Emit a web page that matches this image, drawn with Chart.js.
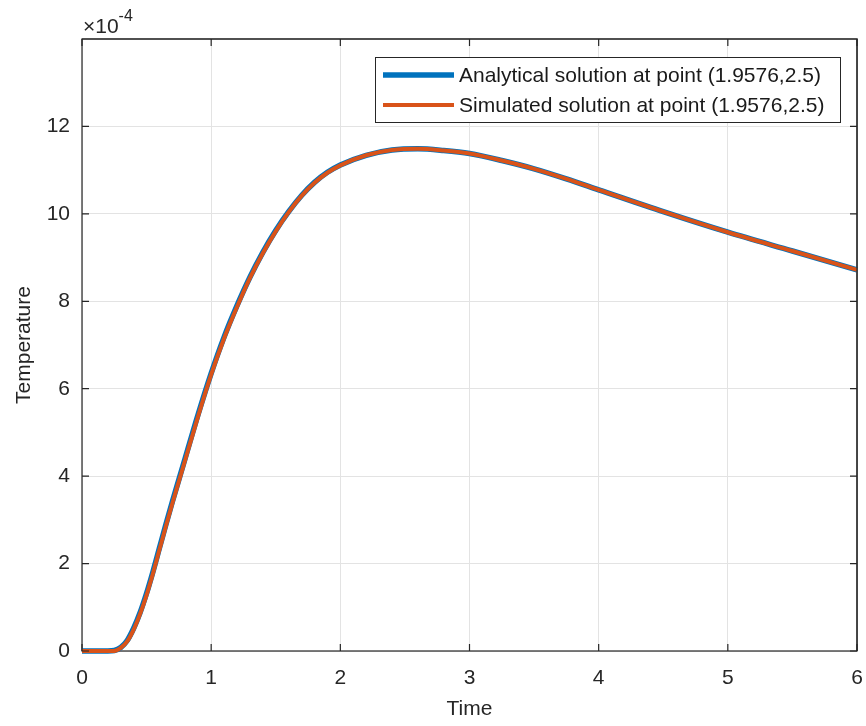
<!DOCTYPE html>
<html>
<head>
<meta charset="utf-8">
<script src="https://cdn.jsdelivr.net/npm/chart.js@4.4.0/dist/chart.umd.min.js"></script>
<style>
  html, body { margin: 0; padding: 0; background: #fff; }
  #wrap { width: 866px; height: 726px; }
</style>
</head>
<body>
<div id="wrap"><canvas id="myChart" width="866" height="726"></canvas></div>
<script>
// time values (s) and temperatures in units of 1e-4
var timeVals = [0, 0.1, 0.2, 0.25, 0.3, 0.35, 0.4, 0.45, 0.5, 0.55, 0.6, 0.65, 0.7, 0.75, 0.8,
    0.9, 1.0, 1.1, 1.2, 1.3, 1.4, 1.5, 1.6, 1.7, 1.8, 1.9, 2.0, 2.2, 2.4, 2.6, 2.8, 3.0,
    3.25, 3.5, 3.75, 4.0, 4.5, 5.0, 5.5, 6.0];
var analytical = [0, 0, 0, 0.01, 0.08, 0.24, 0.52, 0.88, 1.32, 1.82, 2.36, 2.9, 3.42, 3.92, 4.42,
    5.42, 6.35, 7.18, 7.9, 8.55, 9.12, 9.62, 10.05, 10.42, 10.72, 10.95, 11.12, 11.34, 11.46, 11.49,
    11.45, 11.38, 11.22, 11.03, 10.8, 10.55, 10.05, 9.58, 9.15, 8.72];
var simulated = [0, 0, 0, 0.0, 0.07, 0.22, 0.49, 0.85, 1.28, 1.78, 2.32, 2.86, 3.38, 3.88, 4.38,
    5.38, 6.32, 7.15, 7.87, 8.53, 9.1, 9.6, 10.04, 10.41, 10.71, 10.94, 11.11, 11.34, 11.46, 11.49,
    11.45, 11.38, 11.22, 11.03, 10.8, 10.55, 10.05, 9.58, 9.15, 8.72];
var seriesLabels = ["Analytical solution at point (1.9576,2.5)", "Simulated solution at point (1.9576,2.5)"];
var xTicks = [0, 1, 2, 3, 4, 5, 6];
var yTicks = [0, 2, 4, 6, 8, 10, 12];

function toPoints(xs, ys) {
    var result = [];
    for (var i = 0; i < xs.length; i++) {
        result.push({ x: xs[i], y: ys[i] });
    }
    return result;
}

var FONT = "'Liberation Sans', Arial, Helvetica, sans-serif";
var axisColor = "#262626";

// box, inward ticks, exponent label and legend, MATLAB style
var matlabAxes = {
    id: "matlabAxes",
    beforeDatasetsDraw: function (chart) {
        var ctx = chart.ctx, a = chart.chartArea;
        ctx.save();
        ctx.strokeStyle = axisColor;
        ctx.lineWidth = 1.2;
        ctx.strokeRect(a.left, a.top, a.right - a.left, a.bottom - a.top);
        ctx.restore();
    },
    afterDraw: function (chart) {
        var ctx = chart.ctx, a = chart.chartArea;
        var xs = chart.scales.x, ys = chart.scales.y;
        ctx.save();
        ctx.strokeStyle = axisColor;
        ctx.lineWidth = 1.2;
        ctx.beginPath();
        ctx.moveTo(a.left, a.top); ctx.lineTo(a.right, a.top); ctx.lineTo(a.right, a.bottom);
        ctx.stroke();
        ctx.beginPath();
        var tl = 7;
        xTicks.forEach(function (v) {
            var px = xs.getPixelForValue(v);
            ctx.moveTo(px, a.bottom); ctx.lineTo(px, a.bottom - tl);
            ctx.moveTo(px, a.top); ctx.lineTo(px, a.top + tl);
        });
        yTicks.forEach(function (v) {
            var py = ys.getPixelForValue(v);
            ctx.moveTo(a.left, py); ctx.lineTo(a.left + tl, py);
            ctx.moveTo(a.right, py); ctx.lineTo(a.right - tl, py);
        });
        ctx.stroke();

        // exponent
        ctx.fillStyle = axisColor;
        ctx.textBaseline = "alphabetic";
        ctx.textAlign = "left";
        ctx.font = "21px " + FONT;
        ctx.fillText("\u00d710", a.left + 1, a.top - 6);
        var w = ctx.measureText("\u00d710").width;
        ctx.font = "16px " + FONT;
        ctx.fillText("-4", a.left + 1 + w, a.top - 18);

        // legend
        var lx = 375, ly = 57, lw = 465, lh = 65;
        ctx.fillStyle = "#fff";
        ctx.fillRect(lx, ly, lw, lh);
        ctx.strokeStyle = axisColor;
        ctx.lineWidth = 1;
        ctx.strokeRect(lx + 0.5, ly + 0.5, lw, lh);
        ctx.font = "21px " + FONT;
        ctx.textBaseline = "middle";
        chart.data.datasets.forEach(function (ds, i) {
            var cy = ly + 18 + i * 30;
            ctx.strokeStyle = ds.borderColor;
            ctx.lineWidth = ds.borderWidth;
            ctx.beginPath();
            ctx.moveTo(lx + 8, cy);
            ctx.lineTo(lx + 79, cy);
            ctx.stroke();
            ctx.fillStyle = "#1a1a1a";
            ctx.fillText(ds.label, lx + 84, cy + 1);
        });
        ctx.restore();
    }
};

var ctx = document.getElementById("myChart").getContext("2d");
var mychart = new Chart(ctx, {
    type: "scatter",
    data: {
        datasets: [
            {
                label: seriesLabels[0],
                data: toPoints(timeVals, analytical),
                borderColor: "#0072BD",
                borderWidth: 5.5,
                showLine: true,
                pointRadius: 0,
                order: 1,
                clip: 6,
                cubicInterpolationMode: "monotone",
                fill: false
            },
            {
                label: seriesLabels[1],
                data: toPoints(timeVals, simulated),
                borderColor: "#D95319",
                borderWidth: 4,
                showLine: true,
                pointRadius: 0,
                order: 0,
                clip: 6,
                cubicInterpolationMode: "monotone",
                fill: false
            }
        ]
    },
    options: {
        responsive: false,
        animation: false,
        layout: { padding: { left: 0, right: 9, top: 39, bottom: 0 } },
        plugins: { legend: { display: false }, tooltip: { enabled: false } },
        scales: {
            x: {
                type: "linear",
                min: 0, max: 6,
                afterBuildTicks: function (s) { s.ticks = xTicks.map(function (v) { return { value: v }; }); },
                afterFit: function (s) { s.height = 75; s.paddingLeft = 0; s.paddingRight = 0; },
                grid: { color: "#e3e3e3", drawTicks: false },
                border: { display: false },
                ticks: { padding: 15, color: axisColor, font: { family: FONT, size: 21 } },
                title: { display: true, text: "Time", color: axisColor, padding: { top: 5 }, font: { family: FONT, size: 21 } }
            },
            y: {
                min: 0, max: 14,
                afterBuildTicks: function (s) { s.ticks = yTicks.map(function (v) { return { value: v }; }); },
                afterFit: function (s) { s.width = 82; s.paddingTop = 0; s.paddingBottom = 0; },
                grid: { color: "#e3e3e3", drawTicks: false },
                border: { display: false },
                ticks: { padding: 12, color: axisColor, font: { family: FONT, size: 21 } },
                title: { display: true, text: "Temperature", color: axisColor, padding: { top: 12, bottom: 0 }, font: { family: FONT, size: 21 } }
            }
        }
    },
    plugins: [matlabAxes]
});
</script>
</body>
</html>
